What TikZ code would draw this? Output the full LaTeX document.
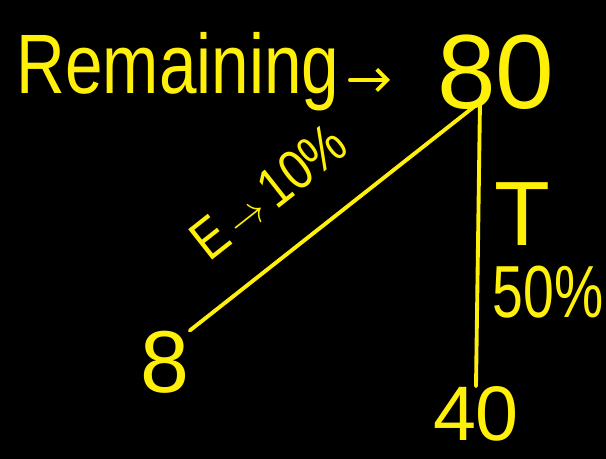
\documentclass[tikz,border=0pt]{standalone}
\usepackage{fontspec}
\setmainfont{Liberation Sans}
\usetikzlibrary{arrows.meta}
\definecolor{chalk}{RGB}{255,240,10}
\begin{document}
\begin{tikzpicture}[x=0.02cm,y=-0.02cm,
  ink/.style={chalk, line width=2.2pt, line cap=round},
  hand/.style={chalk, inner sep=0pt, font=\fontsize{#1}{#1}\selectfont}]
\fill[black] (0,0) rectangle (606,459);
\useasboundingbox (0,0) rectangle (606,459);
% values
\node[hand=48, xscale=0.8] (remaining) at (178,72) {Remaining};
\node[hand=60] (eighty) at (496,72) {80};
\node[hand=50] (eight) at (165,362) {8};
\node[hand=44] (forty) at (476,414) {40};
\coordinate (apex) at (480,102);
% connectors
\draw[ink, -{Straight Barb[length=6pt]}] (350,80) -- (390,80);
\draw[ink] (eight.north east) -- (apex)
  node[pos=0.4, sloped, above=22pt, hand=32, xscale=0.85] (energy) {E\,$\rightarrow$\,10\%};
\draw[ink] (apex) -- (forty.north);
% labels
\node[hand=52] (tlabel) at (522,214) {T};
\node[hand=42, xscale=0.75] (tval) at (548,292) {50\%};
\end{tikzpicture}
\end{document}
